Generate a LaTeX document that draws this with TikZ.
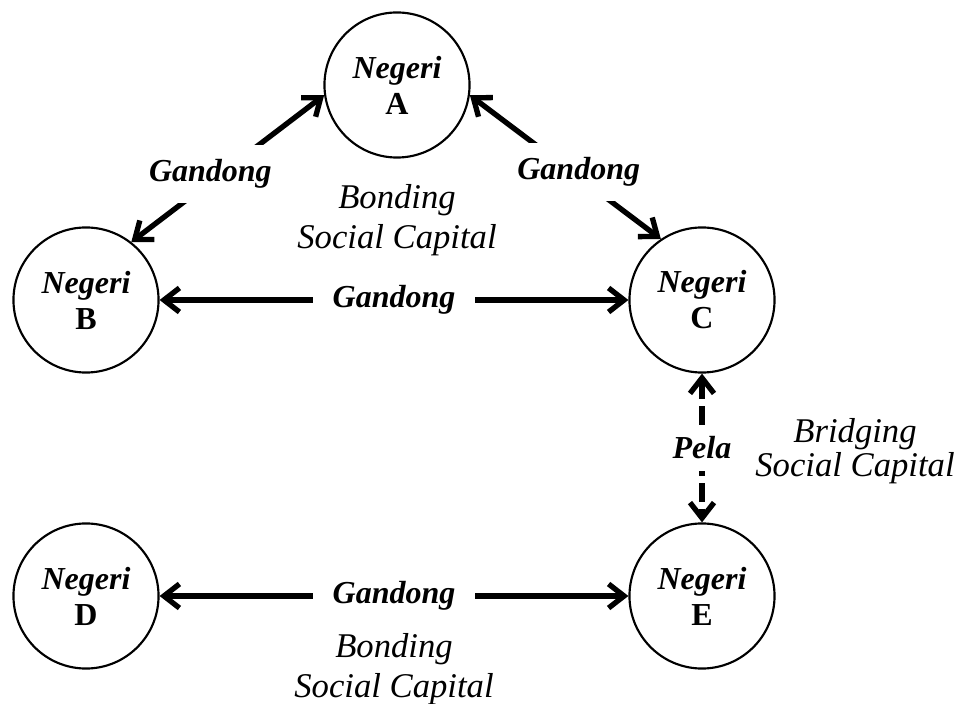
\documentclass[tikz,border=0pt]{standalone}
\usepackage{fontspec}
\setmainfont{Liberation Serif}
\usetikzlibrary{arrows.meta}

\begin{document}
\begin{tikzpicture}[x=0.375pt,y=-0.375pt,>={Straight Barb[length=5.8pt,width=9pt]},semithick,node distance=231pt,
	negeri/.style={draw,circle,thick,minimum size=54.4pt,inner sep=0pt,align=center,font=\fontsize{12}{13.5}\selectfont\bfseries},
	link/.style={line width=2pt},
	tie/.style={fill=white,inner xsep=7.5pt,inner ysep=5.5pt,font=\fontsize{12}{14}\selectfont\bfseries\itshape},
	capital/.style={align=center,font=\fontsize{13}{15}\selectfont\itshape}]

		\useasboundingbox (0,0) rectangle (956,704);

		\node(n_A) [negeri] at (397,85)         {\textit{Negeri}\\A};
		\node(n_B) [negeri] at (86,300)         {\textit{Negeri}\\B};
		\node(n_C) [negeri, right of = n_B]     {\textit{Negeri}\\C};
		\node(n_D) [negeri, below of = n_B, node distance=111pt] {\textit{Negeri}\\D};
		\node(n_E) [negeri, right of = n_D]     {\textit{Negeri}\\E};

		\node(bond_1) [capital] at (397,220) {Bonding\\Social Capital};
		\node(bond_2) [capital] at (394,669) {Bonding\\Social Capital};
		\node(bridge) [capital, font=\fontsize{13}{13}\selectfont\itshape] at (855,451) {Bridging\\Social Capital};

		\draw[<->,link] (n_B.52) -- node[tie,pos=.41,yshift=3pt] {Gandong} (n_A.188);
		\draw[<->,link] (n_A.352) -- node[tie,pos=.57,yshift=2pt] {Gandong} (n_C.124);
		\draw[<->,link] (n_B) -- node[tie] {Gandong} (n_C);
		\draw[<->,link] (n_D) -- node[tie] {Gandong} (n_E);
		\draw[<->,link,dash pattern=on 7pt off 2.6pt] (n_C) -- node[tie,inner ysep=4.3pt] {Pela} (n_E);
	\end{tikzpicture}
\end{document}
